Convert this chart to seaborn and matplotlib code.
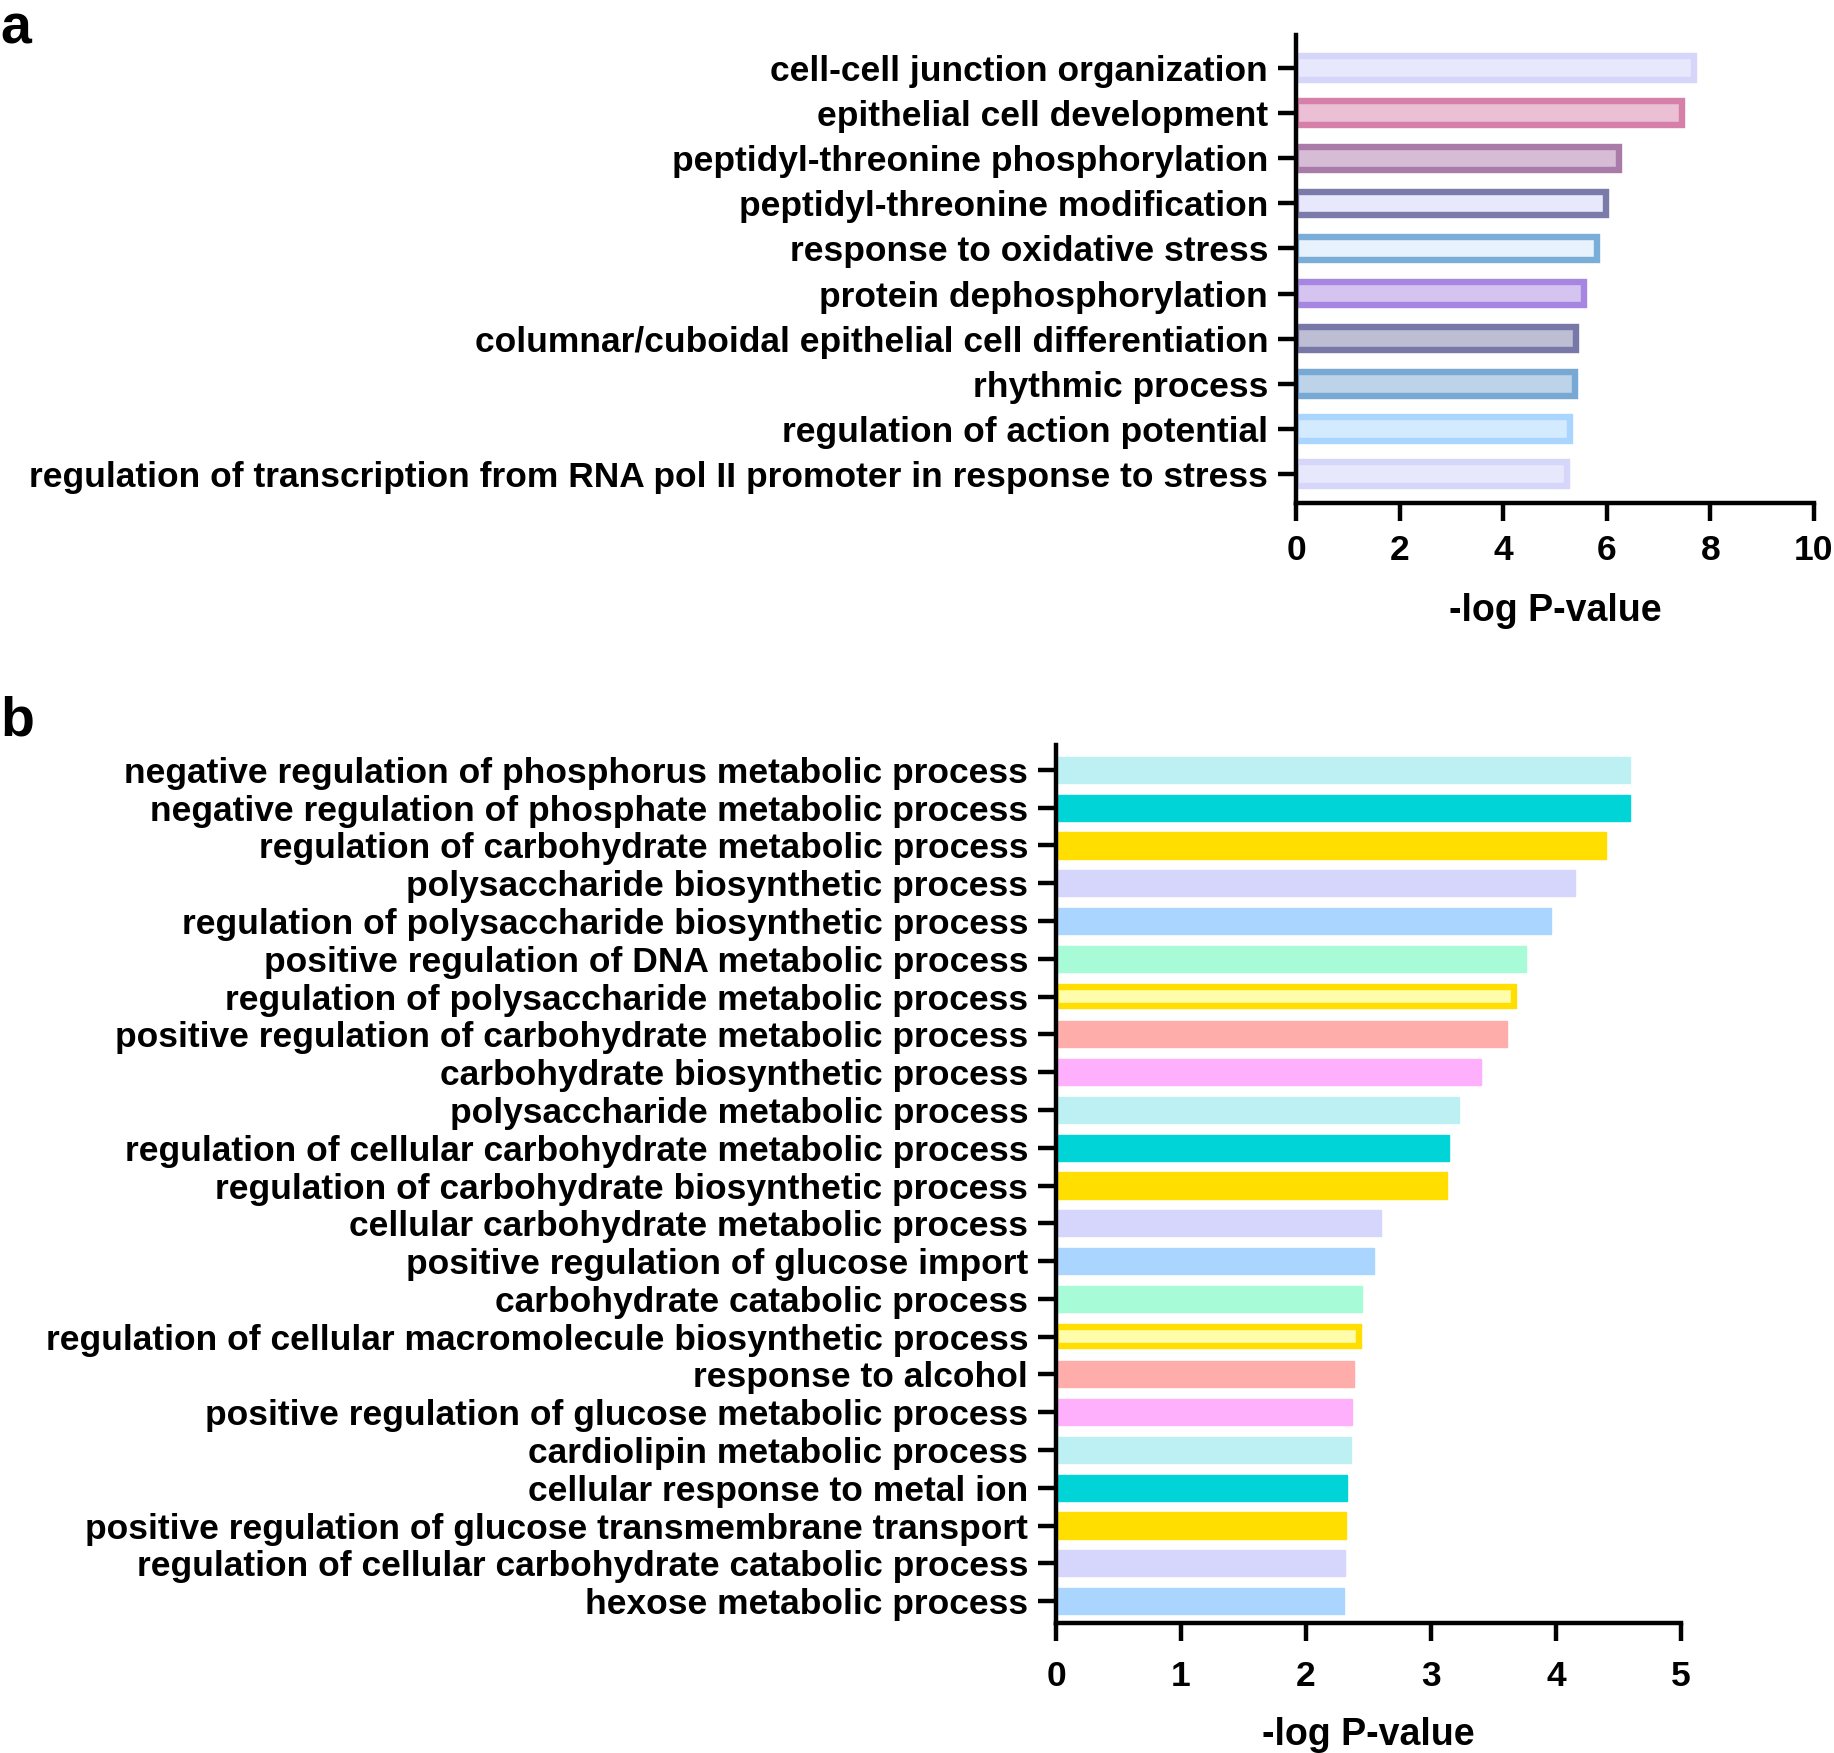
import matplotlib
matplotlib.use("Agg")
import matplotlib.pyplot as plt
import seaborn as sns

# Panel a data
terms_a = [
    "cell-cell junction organization",
    "epithelial cell development",
    "peptidyl-threonine phosphorylation",
    "peptidyl-threonine modification",
    "response to oxidative stress",
    "protein dephosphorylation",
    "columnar/cuboidal epithelial cell differentiation",
    "rhythmic process",
    "regulation of action potential",
    "regulation of transcription from RNA pol II promoter in response to stress",
]
logp_a = [7.75, 7.52, 6.29, 6.04, 5.88, 5.62, 5.47, 5.45, 5.35, 5.29]
fill_a = ["#E8E8FD", "#EBBFD4", "#D6BCD4", "#E8E8FD", "#E8F2FC",
          "#D4C4EF", "#BDBDD4", "#BCD3E9", "#D4EAFF", "#E8E8FD"]
edge_a = ["#D6D6FA", "#D67FA8", "#A97BA8", "#7B7BAA", "#7AAED8",
          "#A586E0", "#7878A8", "#78A8D4", "#A9D5FF", "#D6D6FA"]

# Panel b data
terms_b = [
    "negative regulation of phosphorus metabolic process",
    "negative regulation of phosphate metabolic process",
    "regulation of carbohydrate metabolic process",
    "polysaccharide biosynthetic process",
    "regulation of polysaccharide biosynthetic process",
    "positive regulation of DNA metabolic process",
    "regulation of polysaccharide metabolic process",
    "positive regulation of carbohydrate metabolic process",
    "carbohydrate biosynthetic process",
    "polysaccharide metabolic process",
    "regulation of cellular carbohydrate metabolic process",
    "regulation of carbohydrate biosynthetic process",
    "cellular carbohydrate metabolic process",
    "positive regulation of glucose import",
    "carbohydrate catabolic process",
    "regulation of cellular macromolecule biosynthetic process",
    "response to alcohol",
    "positive regulation of glucose metabolic process",
    "cardiolipin metabolic process",
    "cellular response to metal ion",
    "positive regulation of glucose transmembrane transport",
    "regulation of cellular carbohydrate catabolic process",
    "hexose metabolic process",
]
logp_b = [4.59, 4.59, 4.40, 4.15, 3.96, 3.76, 3.69, 3.61, 3.40, 3.22,
          3.14, 3.13, 2.60, 2.54, 2.45, 2.45, 2.38, 2.37, 2.36, 2.33,
          2.32, 2.31, 2.30]
fill_cycle = ["#BDF0F2", "#00D4D6", "#FFDE00", "#D6D6FC", "#A9D5FF",
              "#A8FBD7", "#FFFDAA", "#FFADAA", "#FFB0FD"]
edge_cycle = ["#BDF0F2", "#00D4D6", "#FFDE00", "#D6D6FC", "#A9D5FF",
              "#A8FBD7", "#FFDE00", "#FFADAA", "#FFB0FD"]
fill_b = [fill_cycle[i % 9] for i in range(len(terms_b))]
edge_b = [edge_cycle[i % 9] for i in range(len(terms_b))]
thick_b = [i % 9 == 6 for i in range(len(terms_b))]

sns.set_style("white")
plt.rcParams["font.family"] = ["Liberation Sans", "DejaVu Sans"]
plt.rcParams["font.weight"] = "bold"
for k in ["text.color", "axes.labelcolor", "xtick.color", "ytick.color"]:
    plt.rcParams[k] = "black"

fig = plt.figure(figsize=(18.34, 17.53), dpi=100)
W, H = 1834, 1753


def inset_bar(ax, p, lw_pt):
    # keep the stroke inside the bar outline, like Prism does
    lw_px = lw_pt * 100 / 72
    inv = ax.transData.inverted()
    x0, y0 = inv.transform((0, 0))
    x1, y1 = inv.transform((lw_px, lw_px))
    dx, dy = abs(x1 - x0), abs(y1 - y0)
    p.set_y(p.get_y() + dy / 2)
    p.set_height(p.get_height() - dy)
    p.set_width(p.get_width() - dx / 2)


def style_axes(ax, xmax, step, ylim, xpad, labelpad):
    ax.set_xlim(0, xmax)
    ax.set_ylim(*ylim)
    ax.set_xticks(range(0, xmax + 1, step))
    sns.despine(ax=ax)
    for s in ["left", "bottom"]:
        ax.spines[s].set_linewidth(3.2)
        ax.spines[s].set_color("black")
    ax.tick_params(axis="x", length=13, width=3.2, pad=xpad, labelsize=25.5,
                   color="black", labelcolor="black", direction="out", bottom=True)
    ax.tick_params(axis="y", length=13, width=3.2, pad=7, labelsize=25.5,
                   color="black", labelcolor="black", direction="out", left=True)
    for t in ax.get_xticklabels() + ax.get_yticklabels():
        t.set_fontweight("bold")
    ax.set_ylabel("")
    ax.set_xlabel("-log P-value", fontsize=27, fontweight="bold",
                  color="black", labelpad=labelpad)


# ---- panel a
ax_a = fig.add_axes([1296 / W, 1 - 503 / H, (1814 - 1296) / W, (503 - 35) / H])
sns.barplot(x=logp_a, y=terms_a, hue=terms_a, palette=fill_a, legend=False,
            orient="h", width=0.66, saturation=1, ax=ax_a)
style_axes(ax_a, 10, 2, (len(terms_a) - 1 + 0.64, -0.73), xpad=9, labelpad=19)
for p, ec in zip(ax_a.patches, edge_a):
    p.set_edgecolor(ec)
    p.set_linewidth(4.6)
    inset_bar(ax_a, p, 4.6)

# ---- panel b
ax_b = fig.add_axes([1056 / W, 1 - 1623 / H, (1681 - 1056) / W, (1623 - 745) / H])
sns.barplot(x=logp_b, y=terms_b, hue=terms_b, palette=fill_b, legend=False,
            orient="h", width=0.69, saturation=1, ax=ax_b)
style_axes(ax_b, 5, 1, (len(terms_b) - 1 + 0.58, -0.66), xpad=14, labelpad=17)
for p, ec, thick in zip(ax_b.patches, edge_b, thick_b):
    p.set_edgecolor(ec)
    if thick:
        p.set_linewidth(4.6)
        inset_bar(ax_b, p, 4.6)
    else:
        p.set_linewidth(1)

fig.text(0, 1 - 3 / H, "a", fontsize=40, fontweight="bold", va="top", ha="left")
fig.text(0, 1 - 695 / H, "b", fontsize=40, fontweight="bold", va="top", ha="left")

fig.savefig("out.png", dpi=100)
